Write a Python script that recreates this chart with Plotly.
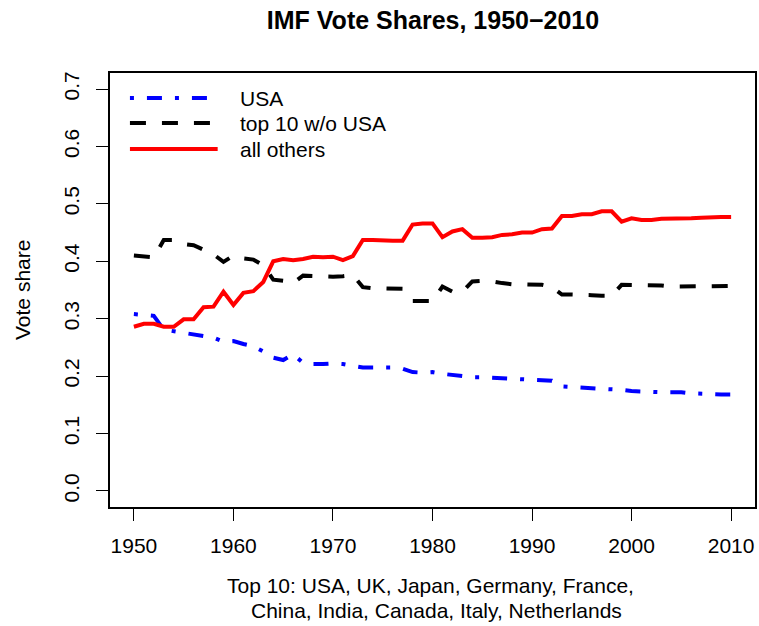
import plotly.graph_objects as go

years = list(range(1950, 2011))

usa = [0.308, 0.306, 0.305, 0.281, 0.278, 0.275, 0.273, 0.270, 0.267, 0.260,
       0.261, 0.256, 0.252, 0.243, 0.232, 0.228, 0.238, 0.223, 0.221, 0.221,
       0.222, 0.221, 0.218, 0.215, 0.215, 0.215, 0.215, 0.213, 0.207, 0.206,
       0.207, 0.204, 0.202, 0.199, 0.198, 0.198, 0.197, 0.196, 0.195, 0.195,
       0.194, 0.193, 0.192, 0.182, 0.181, 0.181, 0.180, 0.179, 0.178, 0.176,
       0.174, 0.173, 0.173, 0.172, 0.172, 0.172, 0.170, 0.169, 0.168, 0.168,
       0.168]

top10_wo_usa = [0.410, 0.408, 0.407, 0.437, 0.437, 0.430, 0.428, 0.420, 0.412, 0.399,
                0.410, 0.405, 0.403, 0.393, 0.368, 0.366, 0.362, 0.375, 0.374, 0.374,
                0.373, 0.374, 0.376, 0.355, 0.353, 0.353, 0.353, 0.352, 0.331, 0.331,
                0.331, 0.356, 0.347, 0.347, 0.365, 0.366, 0.365, 0.362, 0.360, 0.360,
                0.359, 0.359, 0.355, 0.342, 0.342, 0.342, 0.341, 0.340, 0.340, 0.359,
                0.359, 0.359, 0.359, 0.358, 0.356, 0.356, 0.356, 0.357, 0.357, 0.357,
                0.357]

all_others = [0.286, 0.291, 0.291, 0.286, 0.286, 0.299, 0.299, 0.320, 0.321, 0.347,
              0.324, 0.345, 0.348, 0.364, 0.400, 0.404, 0.402, 0.404, 0.408, 0.407,
              0.408, 0.402, 0.409, 0.437, 0.437, 0.436, 0.436, 0.436, 0.464, 0.466,
              0.466, 0.442, 0.452, 0.456, 0.441, 0.441, 0.442, 0.446, 0.447, 0.450,
              0.450, 0.456, 0.457, 0.479, 0.479, 0.482, 0.482, 0.487, 0.487, 0.469,
              0.475, 0.472, 0.472, 0.474, 0.474, 0.475, 0.475, 0.476, 0.477, 0.477,
              0.477]

series_names = ["USA", "top 10 w/o USA", "all others"]
series_colors = ["#0000FF", "#000000", "#FF0000"]
series_dash = ["4px,13px,15px,13px", "16px,16px", "solid"]
x_ticks = [1950, 1960, 1970, 1980, 1990, 2000, 2010]
y_ticks = [0.0, 0.1, 0.2, 0.3, 0.4, 0.5, 0.6, 0.7]

FONT = "Liberation Sans, Arial, Helvetica, sans-serif"
FS = 21
W, H = 759, 626
L, R, T, B = 110, 2, 73, 119
pw, ph = W - L - R, H - T - B

fig = go.Figure()
for name, vals, col, dash in zip(series_names, [usa, top10_wo_usa, all_others],
                                 series_colors, series_dash):
    fig.add_trace(go.Scatter(x=years, y=vals, mode="lines", name=name,
                             line=dict(color=col, width=4, dash=dash)))

# manual legend (no box)
leg_x0, leg_x1, leg_tx = 130, 218, 238
leg_rows = [98, 123, 149]
for name, col, dash, yy in zip(series_names, series_colors, series_dash, leg_rows):
    py = 1 - (yy - T) / ph
    fig.add_shape(type="line", xref="paper", yref="paper",
                  x0=(leg_x0 - L) / pw, x1=(leg_x1 - L) / pw, y0=py, y1=py,
                  line=dict(color=col, width=4, dash=dash))
    fig.add_annotation(text=name, xref="paper", yref="paper",
                       x=(leg_tx - L) / pw, y=py, xanchor="left", yanchor="middle",
                       showarrow=False, font=dict(size=FS, color="black", family=FONT))

# y axis label
fig.add_annotation(text="Vote share", xref="paper", yref="paper", x=0, y=0.5,
                   xshift=22 - L, xanchor="center", yanchor="middle", textangle=-90,
                   showarrow=False, font=dict(size=FS, color="black", family=FONT))
# x axis label (two lines)
fig.add_annotation(text="Top 10: USA, UK, Japan, Germany, France,", xref="paper", yref="paper",
                   x=0.5, y=0, yshift=-(585 - (T + ph)), xshift=-2,
                   xanchor="center", yanchor="middle", showarrow=False,
                   font=dict(size=FS, color="black", family=FONT))
fig.add_annotation(text="China, India, Canada, Italy, Netherlands", xref="paper", yref="paper",
                   x=0.5, y=0, yshift=-(610 - (T + ph)), xshift=3.5,
                   xanchor="center", yanchor="middle", showarrow=False,
                   font=dict(size=FS, color="black", family=FONT))

fig.update_layout(
    width=W, height=H,
    margin=dict(l=L, r=R, t=T, b=B, pad=0),
    paper_bgcolor="white", plot_bgcolor="white",
    showlegend=False,
    font=dict(family=FONT, size=FS, color="black"),
    title=dict(text="<b>IMF Vote Shares, 1950\u22122010</b>", x=433 / W, xanchor="center",
               y=1 - 20 / H, yanchor="middle", font=dict(size=25, family=FONT, color="black")),
    xaxis=dict(range=[1947.6, 2012.4], tickvals=x_ticks, ticks="outside", ticklen=12,
               tickwidth=1.2, tickcolor="black", showline=True, linecolor="black",
               linewidth=1.5, mirror=True, showgrid=False, zeroline=False,
               ticklabelstandoff=7, tickfont=dict(size=FS, family=FONT)),
    yaxis=dict(range=[-0.028, 0.728], tickvals=y_ticks, tickformat=".1f", ticks="outside",
               ticklen=12, tickwidth=1.2, tickcolor="black", showline=True, linecolor="black",
               linewidth=1.5, mirror=True, showgrid=False, zeroline=False, tickangle=-90,
               ticklabelstandoff=9, tickfont=dict(size=FS, family=FONT)),
)

fig.write_html("out.html", config={"displayModeBar": False},
               post_script="document.body.style.margin='0';document.body.style.overflow='hidden';")
